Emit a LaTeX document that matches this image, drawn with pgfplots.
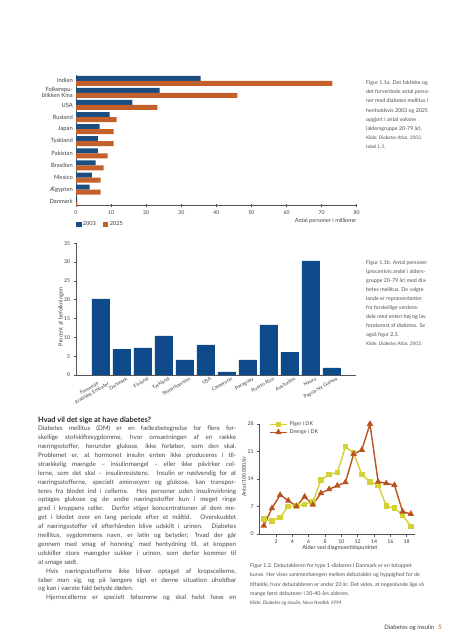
\documentclass[border=0pt]{standalone}
\usepackage{fontspec}
\setmainfont{Lato}
\usepackage{pgfplots}
\pgfplotsset{compat=1.18}
\definecolor{dblue}{HTML}{1B4D80}
\definecolor{dorange}{HTML}{C3602C}
\definecolor{bblue}{HTML}{0E4A8A}
\definecolor{pyellow}{HTML}{D3D136}
\definecolor{dred}{HTML}{B9531F}
\definecolor{txt}{HTML}{404040}
\definecolor{btxt}{HTML}{484848}
\definecolor{capc}{HTML}{505050}
\definecolor{axc}{HTML}{555555}
\definecolor{forange}{HTML}{E07B2A}
\newcommand{\fs}[2]{\fontsize{#1bp}{#2bp}\selectfont}
\newcommand{\bodyfont}{\fs{6.3}{8.9}}
\newcommand{\capfont}{\fs{5.3}{6}}
\newcommand{\BL}[2]{\node[anchor=base west, inner sep=0pt, font=\bodyfont, text=btxt] at (38,#1) {\makebox[198bp][s]{#2}};}
\newcommand{\BLr}[2]{\node[anchor=base west, inner sep=0pt, font=\bodyfont, text=btxt] at (38,#1) {#2};}
\newcommand{\CL}[3]{\node[anchor=base west, inner sep=0pt, font=\capfont, text=capc] at (#1,#2) {#3};}
\newcommand{\CI}[3]{\node[anchor=base west, inner sep=0pt, font=\fs{4.8}{5.5}\itshape, text=capc] at (#1,#2) {#3};}
\begin{document}
\begin{tikzpicture}
\useasboundingbox (0,0) rectangle (453bp,-640bp);
\fill[white] (0,0) rectangle (453bp,-640bp);

% ---------------- Figure 1.1a ----------------
\begin{axis}[
  at={(76bp,-205.7bp)}, anchor=south west, scale only axis,
  width=280.7bp, height=131bp,
  xmin=0, xmax=80, ymin=-0.33, ymax=10.5,
  axis x line*=bottom, axis y line*=left,
  axis line style={axc, line width=0.7pt},
  xtick={0,10,...,80}, tick align=center, major tick length=3bp,
  xtick style={axc, line width=0.6pt},
  ytick={0,...,10}, ytick style={draw=none},
  yticklabels={Danmark,Ægypten,Mexico,Brasilien,Pakistan,Tyskland,Japan,Rusland,USA,{Folkerepu-\\blikken Kina},Indien},
  yticklabel style={align=right, font=\fs{5.8}{6.0}, text=txt, inner sep=1.5bp},
  xticklabel style={font=\fs{5.2}{6}, text=txt},
  /pgf/number format/assume math mode=true,
  xlabel={Antal personer i millioner},
  xlabel style={at={(axis description cs:1,0)}, anchor=north east, yshift=-12.5bp, font=\fs{5.6}{6}, text=txt, inner sep=0pt},
  legend style={at={(axis description cs:0,0)}, anchor=north west, yshift=-13.5bp, draw=none, fill=none, inner sep=0pt,
    legend columns=2, font=\fs{5.6}{6}, text=txt, /tikz/every even column/.append style={column sep=5bp}},
  clip=false,
]
\addplot[xbar, bar width=5bp, bar shift=2.5bp, fill=dblue, draw=none, forget plot] coordinates {
 (0.3,0) (3.9,1) (4.5,2) (5.6,3) (6.2,4) (6.2,5) (6.7,6) (9.6,7) (16.1,8) (23.8,9) (35.5,10)};
\addplot[xbar, bar width=5bp, bar shift=-2.5bp, fill=dorange, draw=none, forget plot] coordinates {
 (0.4,0) (7.0,1) (7.0,2) (7.9,3) (9.0,4) (10.7,5) (10.7,6) (11.6,7) (23.2,8) (46.0,9) (73.1,10)};
\addlegendimage{legend image code/.code={\fill[dblue] (0bp,-2.2bp) rectangle (4.4bp,2.2bp);}}
\addlegendentry{2003}
\addlegendimage{legend image code/.code={\fill[dorange] (0bp,-2.2bp) rectangle (4.4bp,2.2bp);}}
\addlegendentry{2025}
\end{axis}

% ---------------- Figure 1.1b ----------------
\begin{axis}[
  at={(76.7bp,-375bp)}, anchor=south west, scale only axis,
  width=279.3bp, height=131.7bp,
  xmin=-1.157, xmax=12.143, ymin=0, ymax=35,
  axis x line*=bottom, axis y line*=left,
  axis line style={axc, line width=0.7pt},
  ytick={0,5,...,35}, ytick style={axc, line width=0.6pt}, tick align=outside, major tick length=3bp,
  xtick={0,...,11}, xtick style={draw=none},
  xticklabels={{Forenede\\Arabiske Emirater},Danmark,Finland,Tyskland,Storbritannien,USA,Cameroon,Paraguay,Puerto Rico,Australien,Nauru,Papua Ny Guinea},
  xticklabel style={rotate=30, anchor=north east, align=center, font=\fs{5.0}{5.5}, text=txt, inner sep=0.8bp, xshift=5bp},
  yticklabel style={font=\fs{5.2}{6}, text=txt},
  /pgf/number format/assume math mode=true,
  ylabel={Procent af befolkningen},
  ylabel style={at={(axis description cs:-0.056,0.44)}, anchor=center, font=\fs{5.6}{6}, text=txt},
  clip=false,
]
\addplot[ybar, bar width=18bp, fill=bblue, draw=none] coordinates {
 (0,20.2) (1,6.9) (2,7.2) (3,10.4) (4,4.0) (5,8.0) (6,0.8) (7,4.0) (8,13.3) (9,6.1) (10,30.3) (11,1.9)};
\end{axis}

% ---------------- Figure 1.2 ----------------
\begin{axis}[
  at={(259.7bp,-534bp)}, anchor=south west, scale only axis,
  width=155.2bp, height=110bp,
  xmin=0, xmax=19, ymin=0, ymax=28,
  axis x line*=bottom, axis y line*=left,
  axis line style={axc, line width=0.9pt},
  xtick={2,4,...,18}, ytick={0,7,14,21,28},
  tick align=outside, major tick length=2.5bp, tick style={axc, line width=0.6pt},
  ticklabel style={font=\fs{5.2}{6}, text=txt},
  /pgf/number format/assume math mode=true,
  xlabel={Alder ved diagnosetidspunktet},
  xlabel style={at={(axis description cs:0.517,0)}, anchor=center, yshift=-14bp, font=\fs{5.6}{6}, text=txt},
  ylabel={Antal/100\,000/år},
  ylabel style={at={(axis description cs:-0.101,0.52)}, anchor=center, font=\fs{5.2}{6}, text=txt},
  legend style={at={(axis description cs:0.06,1.04)}, anchor=north west, draw=none, fill=none, inner sep=0pt,
    font=\fs{5.3}{5.6}, text=txt, row sep=-1.5bp},
  legend cell align=left,
  clip=false,
]
\addplot[pyellow, line width=1.4pt, mark=square*, mark size=2.1bp, mark options={fill=pyellow, draw=pyellow}] coordinates {
 (0.5,3.8) (1.5,3.35) (2.5,4.25) (3.5,7.05) (4.5,7.1) (5.5,7.55) (6.5,8.1) (7.5,13.7) (8.5,15.15) (9.5,15.65)
 (10.5,22.25) (11.5,20.55) (12.5,15.15) (13.5,13.3) (14.5,12.45) (15.5,7.15) (16.5,6.55) (17.5,4.85) (18.5,1.9)};
\addlegendentry{Piger i DK}
\addplot[dred, line width=1.4pt, mark=triangle*, mark size=2.4bp, mark options={fill=dred, draw=dred}] coordinates {
 (0.5,2.1) (1.5,6.55) (2.5,9.95) (3.5,8.5) (4.5,7.1) (5.5,9.5) (6.5,7.45) (7.5,10.4) (8.5,11.4) (9.5,12.3)
 (10.5,13.15) (11.5,20.35) (12.5,21.4) (13.5,28.0) (14.5,13.3) (15.5,12.9) (16.5,12.45) (17.5,5.7) (18.5,5.1)};
\addlegendentry{Drenge i DK}
\end{axis}

\begin{scope}[x=1bp, y=-1bp]
% captions 1.1a
\CL{366}{84.7}{Figur 1.1a. Det faktiske og}
\CL{366}{93.8}{det forventede antal perso-}
\CL{366}{102.9}{ner med diabetes mellitus i}
\CL{366}{112.0}{henholdsvis 2003 og 2025}
\CL{366}{121.1}{opgjort i antal voksne}
\CL{366}{130.2}{(aldersgruppe 20-79 år).}
\CI{366}{139.3}{Kilde: Diabetes Atlas, 2003,}
\CI{366}{148.4}{tabel 1.3.}
% captions 1.1b
\CL{366}{264.0}{Figur 1.1b. Antal personer}
\CL{366}{273.1}{(procentvis andel i alders-}
\CL{366}{282.2}{gruppe 20-79 år) med dia-}
\CL{366}{291.3}{betes mellitus. De valgte}
\CL{366}{300.4}{lande er repræsentanter}
\CL{366}{309.5}{fra forskellige verdens-}
\CL{366}{318.6}{dele med enten høj og lav}
\CL{366}{327.7}{forekomst af diabetes. Se}
\CL{366}{336.8}{også figur 2.3.}
\CI{366}{345.9}{Kilde: Diabetes Atlas, 2003.}
% caption 1.2
\CL{250}{567.4}{Figur 1.2. Debutalderen for type 1-diabetes i Danmark er en totoppet}
\CL{250}{576.7}{kurve. Her vises sammenhængen mellem debutalder og hyppighed for de}
\CL{250}{586.0}{tilfælde, hvor debutalderen er under 20 år. Det vides, at nogenlunde lige så}
\CL{250}{595.3}{mange først debuterer i 30-40-års alderen.}
\CI{250}{604.4}{Kilde: Diabetes og insulin, Novo Nordisk 1994}
% body text
\node[anchor=base west, inner sep=0pt, font=\fs{7.4}{8}\bfseries, text=black!85] at (38,422.8) {Hvad vil det sige at have diabetes?};
\BL{430.7}{Diabetes mellitus (DM) er en fællesbetegnelse for flere for-}
\BL{439.6}{skellige stofskiftesygdomme, hvor omsætningen af en række}
\BL{448.5}{næringsstoffer, herunder glukose, ikke forløber, som den skal.}
\BL{457.4}{Problemet er, at hormonet insulin enten ikke produceres i til-}
\BL{466.3}{strækkelig mængde – insulinmangel – eller ikke påvirker cel-}
\BL{475.2}{lerne, som det skal – insulinresistens. Insulin er nødvendig for at}
\BL{484.1}{næringsstofferne, specielt aminosyrer og glukose, kan transpor-}
\BL{493.0}{teres fra blodet ind i cellerne. Hos personer uden insulinvirkning}
\BL{501.9}{optages glukose og de andre næringsstoffer kun i meget ringe}
\BL{510.8}{grad i kroppens celler. Derfor stiger koncentrationen af dem me-}
\BL{519.7}{get i blodet over en lang periode efter et måltid. Overskuddet}
\BL{528.6}{af næringsstoffer vil efterhånden blive udskilt i urinen. Diabetes}
\BL{537.5}{mellitus, sygdommens navn, er latin og betyder; ’hvad der går}
\BL{546.4}{gennem med smag af honning’ med hentydning til, at kroppen}
\BL{555.3}{udskiller store mængder sukker i urinen, som derfor kommer til}
\BLr{564.2}{at smage sødt.}
\BL{573.1}{\hspace*{8bp}Hvis næringsstofferne ikke bliver optaget af kropscellerne,}
\BL{582.0}{taber man sig, og på længere sigt er denne situation uholdbar}
\BLr{590.9}{og kan i værste fald betyde døden.}
\BL{599.8}{\hspace*{8bp}Hjernecellerne er specielt følsomme og skal helst have en}
% footer
\node[anchor=base east, inner sep=0pt, font=\fs{6}{7}, text=txt] at (442,629) {Diabetes og insulin\hspace{4bp}{\bfseries\color{forange}5}};
\end{scope}
\end{tikzpicture}
\end{document}
